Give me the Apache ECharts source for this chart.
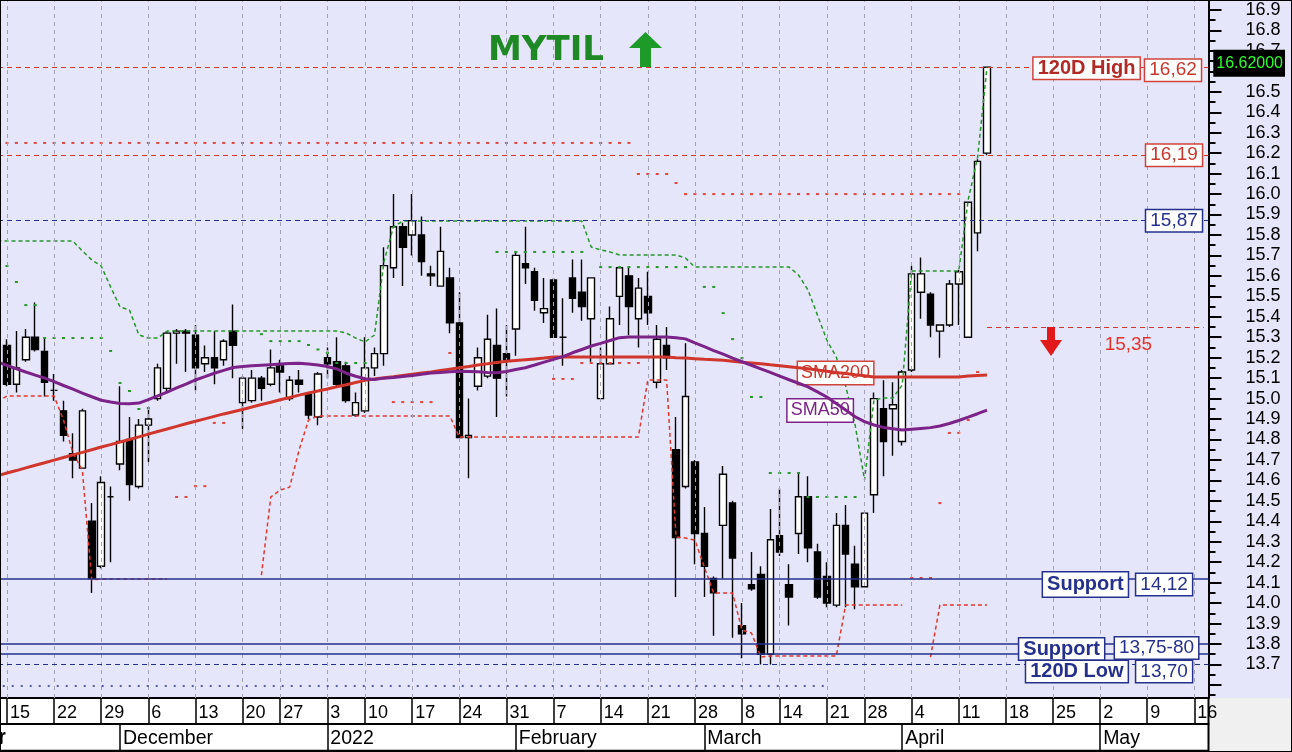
<!DOCTYPE html>
<html>
<head>
<meta charset="utf-8">
<title>MYTIL</title>
<script src="https://cdn.jsdelivr.net/npm/echarts@6/dist/echarts.min.js"></script>
<style>
html,body{margin:0;padding:0;}
body{width:1292px;height:752px;background:#E6E6FA;position:relative;overflow:hidden;}
#axisBg{position:absolute;left:0;top:699px;width:1208px;height:53px;background:#ffffff;}
#cornerBg{position:absolute;left:1208px;top:698px;width:84px;height:54px;background:#F0F0F0;}
#c{position:absolute;left:0;top:0;width:1292px;height:752px;}
#frame{position:absolute;left:0;top:0;width:1290px;height:750px;border:1px solid #000;pointer-events:none;}
</style>
</head>
<body>
<div id="axisBg"></div><div id="cornerBg"></div>
<div id="c"></div>
<div id="frame"></div>
<script>
// ---------- DATA ----------
const dates = [
'2021-11-01','2021-11-02','2021-11-03','2021-11-04','2021-11-05','2021-11-08','2021-11-09','2021-11-10','2021-11-11','2021-11-12',
'2021-11-15','2021-11-16','2021-11-17','2021-11-18','2021-11-19','2021-11-22','2021-11-23','2021-11-24','2021-11-25','2021-11-26',
'2021-11-29','2021-11-30','2021-12-01','2021-12-02','2021-12-03','2021-12-06','2021-12-07','2021-12-08','2021-12-09','2021-12-10',
'2021-12-13','2021-12-14','2021-12-15','2021-12-16','2021-12-17','2021-12-20','2021-12-21','2021-12-22','2021-12-23','2021-12-27',
'2021-12-28','2021-12-29','2021-12-30','2021-12-31','2022-01-03','2022-01-04','2022-01-05','2022-01-07','2022-01-10','2022-01-11',
'2022-01-12','2022-01-13','2022-01-14','2022-01-17','2022-01-18','2022-01-19','2022-01-20','2022-01-21','2022-01-24','2022-01-25',
'2022-01-26','2022-01-27','2022-01-28','2022-01-31','2022-02-01','2022-02-02','2022-02-03','2022-02-04','2022-02-07','2022-02-08',
'2022-02-09','2022-02-10','2022-02-11','2022-02-14','2022-02-15','2022-02-16','2022-02-17','2022-02-18','2022-02-21','2022-02-22',
'2022-02-23','2022-02-24','2022-02-25','2022-02-28','2022-03-01','2022-03-02','2022-03-03','2022-03-04','2022-03-08','2022-03-09',
'2022-03-10','2022-03-11','2022-03-14','2022-03-15','2022-03-16','2022-03-17','2022-03-18','2022-03-21','2022-03-22','2022-03-23',
'2022-03-24','2022-03-28','2022-03-29','2022-03-30','2022-03-31','2022-04-01','2022-04-04','2022-04-05','2022-04-06','2022-04-07',
'2022-04-08','2022-04-11','2022-04-12','2022-04-13','2022-04-14','2022-04-15','2022-04-18','2022-04-19','2022-04-20','2022-04-21',
'2022-04-22','2022-04-25','2022-04-26','2022-04-27','2022-04-28','2022-04-29','2022-05-02','2022-05-03','2022-05-04','2022-05-05',
'2022-05-06','2022-05-09','2022-05-10','2022-05-11','2022-05-12','2022-05-13','2022-05-16','2022-05-17'];

const monthNames = ['January','February','March','April','May','June','July','August','September','October','November','December'];

// daily prices from 2021-11-15 to 2022-04-14
const candleStart = '2021-11-15';
const open = [15.26,15.07,15.19,15.30,15.23,15.04,14.94,14.73,14.66,14.40, 14.18,14.52,14.68,14.80,14.57,14.87,15.00,15.05,15.32,15.33,
15.31,15.17,15.20,15.19,15.33,14.98,14.99,15.10,15.07,15.16, 15.00,15.09,15.02,14.91,15.20,15.18,15.16,14.92,14.94,15.15,
15.22,15.64,15.84,15.80,15.80,15.61,15.55,15.59,15.37,14.81, 15.06,15.11,15.26,15.22,15.34,15.66,15.62,15.42,15.58,15.30,
15.59,15.52,15.39,15.00,15.17,15.50,15.60,15.39,15.50,15.08, 15.26,14.75,14.57,14.69,14.34,14.12,14.38,14.49,13.89,14.09,
14.14,13.75,14.33,14.09,14.34,14.52,14.25,14.13,13.99,14.38, 14.19,14.08,14.53,14.95,14.95,14.79,15.14,15.52,15.51,15.33,
15.36,15.56,15.30,15.81,16.20];
const high = [15.29,15.33,15.34,15.47,15.30,15.12,14.99,14.83,14.95,14.49, 14.62,14.57,15.06,14.91,14.90,14.95,15.17,15.33,15.34,15.34,
15.36,15.26,15.33,15.29,15.46,15.11,15.14,15.11,15.24,15.19, 15.11,15.14,15.03,15.13,15.25,15.30,15.18,15.03,15.30,15.25,
15.74,16.00,15.86,16.00,15.89,15.65,15.84,15.64,15.52,15.00, 15.25,15.41,15.44,15.36,15.72,15.84,15.64,15.59,15.59,15.49,
15.68,15.68,15.59,15.25,15.45,15.64,15.64,15.59,15.62,15.36, 15.35,14.91,15.27,14.70,14.47,14.13,14.67,14.50,14.00,14.25,
14.18,14.46,14.56,14.19,14.64,14.62,14.29,14.20,14.44,14.48, 14.28,14.44,15.03,15.09,15.08,15.14,15.65,15.69,15.52,15.36,
15.58,15.63,15.96,16.17,16.62];
const low = [15.06,15.03,15.18,15.23,15.01,14.99,14.79,14.61,14.66,14.05, 14.17,14.20,14.65,14.50,14.56,14.69,14.99,15.03,15.17,15.13,
15.04,15.13,15.07,15.16,15.10,14.85,14.98,14.99,15.06,15.03, 14.99,15.03,14.90,14.87,15.10,15.06,14.98,14.91,14.93,15.11,
15.16,15.59,15.55,15.70,15.60,15.55,15.55,15.32,14.81,14.61, 15.04,15.10,14.91,15.01,15.21,15.56,15.43,15.37,15.30,15.16,
15.42,15.38,15.18,15.00,15.17,15.36,15.31,15.25,15.36,15.05, 15.14,14.03,14.56,14.19,14.03,13.84,14.12,13.83,13.73,14.06,
13.70,13.70,14.23,13.89,14.24,14.20,14.02,13.98,13.98,13.98, 13.97,14.08,14.44,14.62,14.72,14.77,15.13,15.39,15.30,15.20,
15.35,15.36,15.30,15.72,16.19];
const close = [15.07,15.15,15.30,15.24,15.08,15.04,14.82,14.70,14.94,14.12, 14.59,14.52,14.79,14.58,14.87,14.90,15.15,15.32,15.33,15.32,
15.15,15.20,15.15,15.28,15.26,15.10,15.10,15.05,15.15,15.13, 15.09,15.07,14.92,15.12,15.17,15.07,14.99,14.98,15.15,15.22,
15.65,15.84,15.74,15.87,15.67,15.60,15.72,15.37,14.81,14.82, 15.20,15.29,15.10,15.19,15.70,15.64,15.48,15.44,15.30,15.30,
15.49,15.45,15.59,15.17,15.39,15.64,15.45,15.54,15.42,15.29, 15.20,14.32,15.01,14.34,14.18,14.05,14.63,14.22,13.85,14.07,
13.75,14.31,14.25,14.03,14.52,14.27,14.03,14.00,14.38,14.24, 14.08,14.44,15.00,14.79,14.97,15.13,15.61,15.61,15.36,15.36,
15.56,15.62,15.96,16.16,16.62];

// moving averages, from 2021-11-12
const maStart = '2021-11-12';
const sma200 = [14.623,14.636,14.648,14.661,14.674,14.686,14.699,14.712,14.725,14.737,14.750,14.763,14.775,14.788,14.800,14.813,14.826,14.839,14.851,14.864,
14.877,14.889,14.901,14.913,14.925,14.936,14.947,14.959,14.971,14.982,14.994,15.005,15.017,15.027,15.037,15.047,15.058,15.068,15.079,15.089,
15.096,15.102,15.107,15.113,15.119,15.125,15.130,15.137,15.144,15.151,15.157,15.164,15.170,15.177,15.182,15.186,15.190,15.194,15.198,15.203,
15.203,15.203,15.203,15.203,15.203,15.203,15.203,15.203,15.203,15.203,15.203,15.203,
15.200,15.198,15.195,15.192,15.190,15.187,15.183,15.178,15.174,15.170,15.165,15.161,15.156,
15.151,15.146,15.140,15.134,15.128,15.123,15.117,15.112,15.106,
15.105,15.105,15.105,15.105,15.105,15.105,15.105,15.105,15.105,15.110,15.113,15.115];
const sma50 = [15.179,15.162,15.146,15.130,15.115,15.100,15.083,15.064,15.046,15.027,15.009,14.992,14.983,14.976,14.975,14.978,14.995,15.013,15.032,15.052,
15.071,15.091,15.107,15.124,15.138,15.152,15.157,15.160,15.163,15.166,15.169,15.172,15.173,15.169,15.164,15.157,15.145,15.124,15.109,15.097,
15.093,15.100,15.103,15.108,15.113,15.119,15.125,15.128,15.131,15.134,15.133,15.131,15.128,15.126,15.132,15.142,15.151,15.164,15.178,15.192,
15.205,15.224,15.240,15.257,15.270,15.284,15.298,15.301,15.301,15.301,15.301,15.301,15.298,15.292,15.272,15.254,15.235,15.217,15.198,15.180,
15.163,15.145,15.128,15.110,15.092,15.075,15.057,15.033,15.008,14.976,14.944,14.911,14.887,14.871,14.859,14.853,14.846,14.850,14.854,14.858,
14.866,14.878,14.893,14.909,14.926,14.944];

// trailing channel lines (green = upper, red = lower), from 2021-11-12
const greenStop = [15.770,15.770,15.770,15.770,15.770,15.770,15.770,15.770,15.770,
15.722,15.678,15.648,15.546,15.448,15.433,15.311,15.296,15.296,
15.330,15.330,15.330,15.330,15.330,15.330,15.330,15.330,15.330,15.330,15.330,15.330,15.330,15.330,15.330,15.330,15.330,15.330,15.330,
15.321,15.296,15.277,15.311,15.668,15.839,
15.868,15.868,15.868,15.868,15.868,15.868,15.868,15.868,15.868,15.868,15.868,15.868,15.868,15.868,15.868,15.868,15.868,15.868,15.868,15.868,
15.741,15.727,15.717,15.702,15.702,15.702,15.702,15.702,15.702,15.702,15.687,
15.643,15.643,15.643,15.643,15.643,15.643,15.643,15.643,15.643,15.643,15.643,
15.604,15.531,15.409,15.286,15.203,15.061,14.871,14.602,14.993,15.003,15.003,15.066,
15.624,15.624,15.624,15.624,15.624,15.624,15.971,16.181,16.621];
const redStop = [14.983,15.013,15.013,15.013,15.013,15.013,15.013,14.895,14.734,14.651,14.113,
14.118,14.118,14.118,14.118,14.118,14.118,14.118,14.118,
null,null,null,null,null,null,null,null,null,
14.137,14.519,14.553,14.567,14.749,14.895,
14.915,14.915,14.915,14.915,14.915,14.915,14.915,14.915,14.915,14.915,14.915,14.915,14.915,14.915,14.915,
14.812,14.812,14.812,14.812,14.812,14.812,14.812,14.812,14.812,14.812,14.812,14.812,14.812,14.812,14.812,14.812,14.812,14.812,14.812,14.812,
15.091,15.091,15.091,14.323,14.318,14.308,14.176,14.049,14.049,14.049,13.868,13.854,13.736,
13.741,13.741,13.741,13.741,13.741,13.741,13.741,13.741,
13.991,13.991,13.991,13.991,13.991,13.991,13.991,null,null,13.736,
13.991,13.991,13.991,13.991,13.991,13.991];

// dotted markers: green from 2021-11-15, lower red from 2021-12-09, upper red from 2021-11-12
const greenDotsStart = '2021-11-15';
const greenDots = [15.648,15.570,15.457,15.457,15.296,15.296,15.296,15.296,15.296,15.296,15.296,15.233,15.076,15.037,14.949,14.954,
null,null,null,null,null,null,null,null,null,null,null,
15.315,15.281,15.281,15.281,15.281,15.262,15.240,15.223,15.174,15.174,15.174,15.174,
null,null,null,null,null,null,null,null,null,null,null,null,null,
15.717,15.717,15.717,15.717,15.717,15.717,15.717,15.717,15.717,15.717,null,
15.643,15.643,15.643,15.643,15.643,15.643,15.643,15.643,15.643,15.643,null,
15.546,15.546,15.418,15.291,15.198,15.008,15.008,14.636,14.636,14.636,14.636,14.519,14.519,14.519,14.519,14.519,14.519];
const redDotsStart = '2021-12-09';
const redDots = [14.519,14.519,14.572,14.572,14.881,14.881,
null,null,null,null,null,null,null,null,null,null,null,null,null,null,null,null,null,
14.983,14.983,14.983,14.983,14.983,null,15.223,
null,null,null,null,null,null,null,null,null,null,
15.096,15.096,15.096,15.174,15.174,15.174,15.174,15.174,15.174,15.174,
null,null,null,null,null,null,null,null,null,null,null,null,null,null,null,null,null,null,null,null,null,null,null,null,null,null,null,null,
14.123,14.123,14.123,14.489,14.832,14.832,14.895,15.130];
const redTopDots = [16.250,16.250,16.250,16.250,16.250,16.250,16.250,16.250,16.250,16.250,16.250,16.250,16.250,16.250,16.250,16.250,16.250,
16.250,16.250,16.250,16.250,16.250,16.250,16.250,16.250,16.250,16.250,16.250,16.250,16.250,16.250,16.250,16.250,16.250,16.250,16.250,16.250,
16.250,16.250,16.250,16.250,16.250,16.250,16.250,16.250,16.250,16.250,16.250,16.250,16.250,16.250,16.250,16.250,16.250,16.250,16.250,16.250,
16.250,16.250,16.250,16.250,16.250,16.250,16.250,16.250,16.250,16.250,16.250,
16.098,16.098,16.098,16.098,16.054,
16.000,16.000,16.000,16.000,16.000,16.000,16.000,16.000,16.000,16.000,16.000,16.000,16.000,16.000,16.000,
16.000,16.000,16.000,16.000,16.000,16.000,16.000,16.000,16.000,16.000,16.000,16.000,16.000,16.000,16.000];

// horizontal levels
const high120 = 16.62, resistA = 16.19, resistB = 15.87, stopLevel = 15.35;
const support1 = 14.12, support2High = 13.80, support2Low = 13.75, low120 = 13.70, lowDotted = 13.594;
const lastPrice = 16.62;

// right axis ticks / labels
const priceLabels = [13.7,13.8,13.9,14.0,14.1,14.2,14.3,14.4,14.5,14.6,14.7,14.8,14.9,15.0,15.1,15.2,15.3,15.4,15.5,15.6,15.7,15.8,15.9,16.0,16.1,16.2,16.3,16.4,16.5,16.6,16.7,16.8,16.9];
const majorTicks = [13.6].concat(priceLabels);
const minorTicks = [13.55,13.65,13.75,13.85,13.95,14.05,14.15,14.25,14.35,14.45,14.55,14.65,14.75,14.85,14.95,15.05,15.15,15.25,15.35,15.45,15.55,15.65,15.75,15.85,15.95,16.05,16.15,16.25,16.35,16.45,16.55,16.65,16.75,16.85];

// ---------- BUILD ----------
const FONT = "'Liberation Sans', Arial, sans-serif";
const RED = '#D5342A', DARKRED = '#B02A26', NAVY = '#25308C', GREEN = '#24962A', PURPLE = '#7B2388';

function align(arr, start) {
  const k = dates.indexOf(start);
  const out = dates.map(() => null);
  arr.forEach((v, j) => { if (k + j < out.length) out[k + j] = v; });
  return out;
}
const k0 = dates.indexOf(candleStart);
const candleData = dates.map((d, k) => {
  const j = k - k0;
  return (j >= 0 && j < open.length) ? [open[j], close[j], low[j], high[j]] : '-';
});
const dObj = dates.map(s => new Date(s + 'T00:00:00Z'));
function weekKey(d) { const t = new Date(d.getTime()); t.setUTCDate(t.getUTCDate() - ((t.getUTCDay() + 6) % 7)); return t.getTime(); }
const isWeekStart = dates.map((s, i) => i === 0 || weekKey(dObj[i]) !== weekKey(dObj[i - 1]));
const isMonthStart = dates.map((s, i) => i === 0 || dObj[i].getUTCMonth() !== dObj[i - 1].getUTCMonth());
const lastCandleDate = dates[k0 + close.length - 1];
const lastDate = dates[dates.length - 1];
const monthLabel = (v) => { const m = parseInt(v.slice(5, 7), 10) - 1; return m === 0 ? v.slice(0, 4) : monthNames[m]; };

function boxLabel(text, date, value, dx, dy, st) {
  return {
    coord: [date, value], symbol: 'rect', symbolSize: 1, itemStyle: { color: 'rgba(0,0,0,0)' },
    label: Object.assign({
      show: true, position: 'right', distance: 0, offset: [dx, dy], formatter: text,
      fontFamily: FONT, fontSize: 19, lineHeight: 18, padding: [2, 4, 1, 4],
      backgroundColor: '#fff', borderWidth: 1.5
    }, st)
  };
}
const redBox = { color: '#C8372C', borderColor: '#D0433A' };
const navyBox = { color: NAVY, borderColor: NAVY };
const bold = { fontWeight: 'bold', fontSize: 20 };

const chart = echarts.init(document.getElementById('c'), null, { renderer: 'canvas' });
chart.setOption({
  animation: false,
  backgroundColor: 'transparent',
  title: {
    text: 'MYTIL', left: 483, top: 29,
    textStyle: { color: '#1F8A25', fontSize: 34, fontWeight: 'bold', fontFamily: "'DejaVu Sans', sans-serif" }
  },
  grid: { left: -92, right: 83.5, top: 1, bottom: 54, show: false, outerBoundsMode: 'none', containLabel: false },
  xAxis: [{
    type: 'category', data: dates, boundaryGap: true, position: 'bottom',
    axisLine: { show: true, lineStyle: { color: '#000', width: 2 } },
    axisTick: { show: true, alignWithLabel: true, length: 26, interval: (i) => isWeekStart[i], lineStyle: { color: '#000', width: 1.5 } },
    axisLabel: {
      show: true, interval: (i) => isWeekStart[i], align: 'left', padding: [0, 0, 0, 3], margin: 6,
      fontFamily: FONT, fontSize: 18, lineHeight: 18, color: '#000', showMinLabel: true,
      formatter: (v) => String(parseInt(v.slice(8), 10))
    },
    splitLine: { show: false }
  }, {
    type: 'category', data: dates, boundaryGap: true, position: 'bottom', offset: 26,
    axisLine: { show: true, lineStyle: { color: '#000', width: 2 } },
    axisTick: { show: true, alignWithLabel: true, length: 26, interval: (i) => isMonthStart[i], lineStyle: { color: '#000', width: 1.5 } },
    axisLabel: {
      show: true, interval: (i) => isMonthStart[i], align: 'left', padding: [0, 0, 0, 3], margin: 5,
      fontFamily: FONT, fontSize: 19.5, lineHeight: 19, color: '#000', showMinLabel: true,
      formatter: monthLabel
    },
    splitLine: { show: false }
  }],
  yAxis: [{
    type: 'value', position: 'right', min: 13.536, max: 16.944, scale: true,
    axisLine: { show: true, onZero: false, lineStyle: { color: '#000', width: 2 } },
    axisTick: { show: true, inside: false, length: 13, customValues: majorTicks, lineStyle: { color: '#000', width: 2 } },
    axisLabel: { show: true, margin: 37, customValues: priceLabels, fontFamily: FONT, fontSize: 18, color: '#000', formatter: (v) => v.toFixed(1) },
    splitLine: { show: false }
  }, {
    type: 'value', position: 'right', min: 13.536, max: 16.944, scale: true,
    axisLine: { show: false },
    axisTick: { show: true, inside: false, length: 7, customValues: minorTicks, lineStyle: { color: '#000', width: 2 } },
    axisLabel: { show: false },
    splitLine: { show: false }
  }],
  series: [
    { name: 'weeks', type: 'line', data: dates.map(() => null), z: 1, silent: true,
      markLine: { silent: true, symbol: ['none', 'none'], label: { show: false }, animation: false,
        lineStyle: { color: '#A2A2B4', width: 1, type: [4, 4] },
        data: dates.filter((d, i) => isWeekStart[i]).map(d => ({ xAxis: d })) } },
    { name: 'price', type: 'candlestick', z: 3, barWidth: 7, data: candleData,
      itemStyle: { color: '#ffffff', color0: '#000000', borderColor: '#000000', borderColor0: '#000000', borderColorDoji: '#000000', borderWidth: 1.4 } },
    { name: 'upperDots', type: 'line', z: 4, data: align(redTopDots, maStart), lineStyle: { opacity: 0 },
      showSymbol: true, showAllSymbol: true, symbol: 'rect', symbolSize: [3, 2], itemStyle: { color: '#E0443A' } },
    { name: 'greenDots', type: 'line', z: 4, data: align(greenDots, greenDotsStart), lineStyle: { opacity: 0 },
      showSymbol: true, showAllSymbol: true, symbol: 'rect', symbolSize: [3, 2], itemStyle: { color: GREEN } },
    { name: 'redDots', type: 'line', z: 4, data: align(redDots, redDotsStart), lineStyle: { opacity: 0 },
      showSymbol: true, showAllSymbol: true, symbol: 'rect', symbolSize: [3, 2], itemStyle: { color: '#E0443A' } },
    { name: 'greenStop', type: 'line', z: 4, data: align(greenStop, maStart), showSymbol: false,
      lineStyle: { color: GREEN, width: 1.5, type: [4, 3] } },
    { name: 'redStop', type: 'line', z: 4, data: align(redStop, maStart), showSymbol: false,
      lineStyle: { color: '#E2372D', width: 1.5, type: [4, 3] } },
    { name: 'SMA200', type: 'line', z: 5, data: align(sma200, maStart), showSymbol: false,
      lineStyle: { color: '#D0362B', width: 3 } },
    { name: 'SMA50', type: 'line', z: 5, data: align(sma50, maStart), showSymbol: false,
      lineStyle: { color: PURPLE, width: 3 } },
    { name: 'levels', type: 'line', z: 6, data: dates.map(() => null), silent: true,
      markLine: { silent: true, symbol: ['none', 'none'], label: { show: false }, animation: false,
        data: [
          { yAxis: high120, lineStyle: { color: RED, width: 1.2, type: [5, 4] } },
          { yAxis: resistA, lineStyle: { color: RED, width: 1.2, type: [5, 4] } },
          { yAxis: resistB, lineStyle: { color: NAVY, width: 1.2, type: [5, 4] } },
          { yAxis: support1, lineStyle: { color: NAVY, width: 1.5, type: 'solid' } },
          { yAxis: support2High, lineStyle: { color: NAVY, width: 1.5, type: 'solid' } },
          { yAxis: support2Low, lineStyle: { color: NAVY, width: 1.5, type: 'solid' } },
          { yAxis: low120, lineStyle: { color: NAVY, width: 1.2, type: [5, 4] } },
          [{ coord: [lastCandleDate, stopLevel], lineStyle: { color: RED, width: 1.2, type: [5, 4] } }, { coord: [lastDate, stopLevel] }],
          [{ coord: [dates[0], lowDotted], lineStyle: { color: NAVY, width: 1.5, type: [2, 7] } }, { coord: ['2022-03-21', lowDotted] }]
        ] },
      markPoint: { silent: true, animation: false,
        data: [
          boxLabel('120D High', '2022-04-21', high120, -1, 1, Object.assign({}, redBox, bold, { color: DARKRED })),
          boxLabel('16,62', '2022-05-09', high120, -2.5, 3, redBox),
          boxLabel('16,19', '2022-05-09', resistA, -1.5, 0, redBox),
          boxLabel('15,87', '2022-05-09', resistB, -1.5, 0, navyBox),
          boxLabel('15,35', '2022-05-02', stopLevel, 0, 18, { color: '#E0342B', backgroundColor: 'transparent', borderWidth: 0 }),
          boxLabel('Support', '2022-04-22', support1, -1, 6, Object.assign({}, navyBox, bold, { lineHeight: 20, padding: [2, 4, 2, 4] })),
          boxLabel('14,12', '2022-05-06', support1, -2, 6, navyBox),
          boxLabel('Support', '2022-04-19', 13.775, 3.5, 0, Object.assign({}, navyBox, bold)),
          boxLabel('13,75-80', '2022-05-03', 13.775, 5, -1, navyBox),
          boxLabel('120D Low', '2022-04-20', low120, 1, 7, Object.assign({}, navyBox, bold)),
          boxLabel('13,70', '2022-05-06', low120, -2, 7, navyBox),
          boxLabel('SMA200', '2022-03-16', 15.125, -1, 0, { color: '#C8372C', borderColor: '#D0433A', fontSize: 18, padding: [2, 3, 2, 3] }),
          boxLabel('SMA50', '2022-03-15', 14.942, -2, 0, { color: PURPLE, borderColor: PURPLE, fontSize: 18, padding: [2, 3, 2, 3] }),
          boxLabel('16.62000', lastDate, lastPrice, 9, -4, { color: '#2BFF2B', backgroundColor: '#000', borderWidth: 0, fontSize: 16, lineHeight: 17, padding: [5, 2, 5, 3] })
        ] } }
  ],
  graphic: [
    { type: 'polygon', z: 100, shape: { points: [[645.5, 32], [662, 48], [651, 48], [651, 67], [640, 67], [640, 48], [629, 48]] }, style: { fill: '#1E9A28' } },
    { type: 'polygon', z: 100, shape: { points: [[1047, 327], [1055, 327], [1055, 340], [1062, 340], [1051, 356], [1040, 340], [1047, 340]] }, style: { fill: '#E2191B' } },
    { type: 'line', z: 100, shape: { x1: 0, y1: 750.5, x2: 1208, y2: 750.5 }, style: { stroke: '#000', lineWidth: 1.5 } },
    { type: 'line', z: 100, shape: { x1: 1208.5, y1: 698, x2: 1208.5, y2: 751 }, style: { stroke: '#000', lineWidth: 2 } }
  ]
});

// month name of the first (partly off-screen) month, placed at its category position like the axis labels
(function () {
  const px = chart.convertToPixel({ xAxisIndex: 1 }, dates[0]);
  if (typeof px === 'number' && isFinite(px)) {
    chart.setOption({ graphic: [{
      id: 'firstMonth', type: 'text', z: 100, x: px + 3, y: 728,
      style: { text: monthLabel(dates[0]), font: "19.5px 'Liberation Sans', Arial, sans-serif", fill: '#000' }
    }] });
  }
})();
</script>
</body>
</html>
